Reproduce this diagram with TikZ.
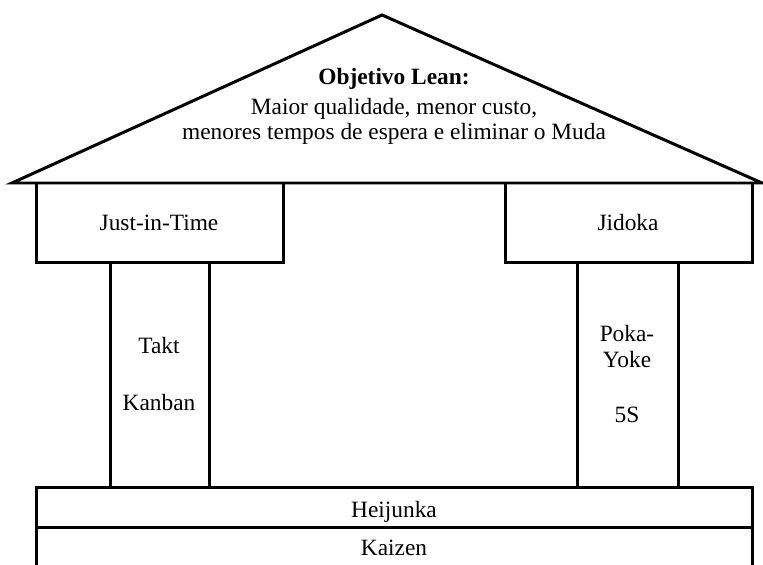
\documentclass[tikz,border=0pt]{standalone}
\usepackage{fontspec}
\setmainfont{Liberation Serif}
\usetikzlibrary{calc}

\tikzset{
    label text/.style={anchor=base, font=\fontsize{13.3}{14.4}\selectfont, inner sep=0pt, align=center}
}

\begin{document}
\begin{tikzpicture}[x=0.02cm,y=-0.02cm,line width=0.06cm]
    % Heights of the main levels (pixels, y down)
    \def\roofbase{183}
    \def\headbot{262}
    \def\colbot{487}
    \def\heibot{527}
    \def\ground{580}

    % Left and right edges of the house
    \def\wl{36}
    \def\wr{752}

    \useasboundingbox (0,0) rectangle (763,564);

    % Corner points of the roof
    \coordinate (apex) at (382,15);
    \coordinate (RL) at (12,\roofbase);
    \coordinate (RR) at (762,\roofbase);

    % Draw the roof
    \draw[line join=miter] (RL) -- (apex) -- (RR) -- cycle;

    % Draw the two header boxes
    \draw (\wl,\roofbase) rectangle (283,\headbot);
    \draw (505,\roofbase) rectangle (\wr,\headbot);

    % Draw the pillars
    \draw (110,\headbot) rectangle (209,\colbot);
    \draw (577,\headbot) rectangle (678,\colbot);

    % Draw the base levels
    \draw (\wl,\colbot) rectangle (\wr,\heibot);
    \draw (\wl,\ground) -- (\wl,\heibot) -- (\wr,\heibot) -- (\wr,\ground);

    % Roof text (base = last line)
    \node[label text] (goal) at (394,140) {\textbf{Objetivo Lean:}\\[3pt]
        Maior qualidade, menor custo,\\
        menores tempos de espera e eliminar o Muda};

    % Header texts
    \node[label text] (jit) at (159,230) {Just-in-Time};
    \node[label text] (jidoka) at (628,230) {Jidoka};

    % Pillar texts
    \node[label text] (takt) at (159,353) {Takt};
    \node[label text] (kanban) at (159,410) {Kanban};
    \node[label text] (poka) at (627,367) {Poka-\\Yoke};
    \node[label text] (five) at (627,422) {5S};

    % Base texts
    \node[label text] (heijunka) at (394,517) {Heijunka};
    \node[label text] (kaizen) at (394,555) {Kaizen};

\end{tikzpicture}
\end{document}
